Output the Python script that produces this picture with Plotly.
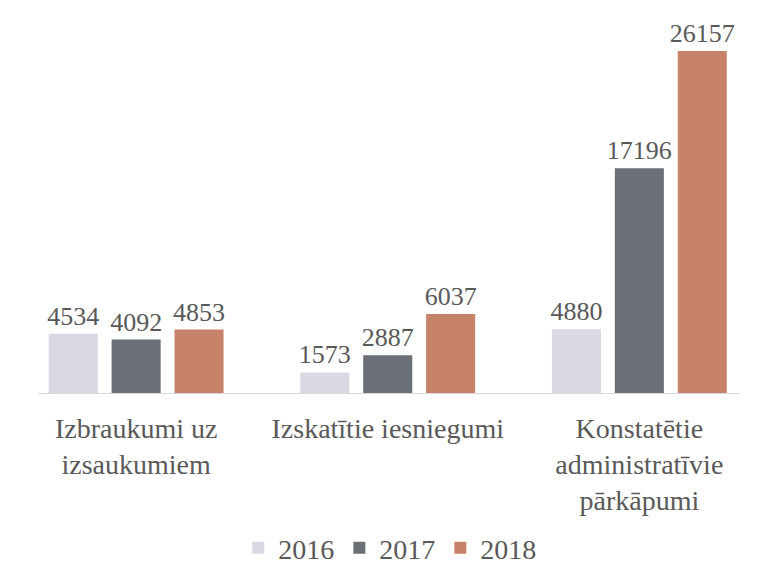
import plotly.graph_objects as go

categories = ["Izbraukumi uz<br>izsaukumiem", "Izskatītie iesniegumi",
              "Konstatētie<br>administratīvie<br>pārkāpumi"]
years = ["2016", "2017", "2018"]
values_2016 = [4534, 1573, 4880]
values_2017 = [4092, 2887, 17196]
values_2018 = [4853, 6037, 26157]

colors = {"2016": "#D8D9E2", "2017": "#6B7076", "2018": "#C7826A"}
font_family = "Times New Roman, Liberation Serif, DejaVu Serif, serif"
text_color = "#595959"

fig = go.Figure()
for year, vals in zip(years, [values_2016, values_2017, values_2018]):
    fig.add_trace(go.Bar(
        x=categories,
        y=vals,
        name=year,
        marker=dict(color=colors[year], line=dict(width=0)),
        text=[str(v) for v in vals],
        textposition="outside",
        constraintext="none",
        textfont=dict(family=font_family, size=26, color=text_color),
        cliponaxis=False,
    ))

fig.update_layout(
    width=757,
    height=564,
    margin=dict(l=0, r=0, t=10, b=171, autoexpand=False),
    paper_bgcolor="white",
    plot_bgcolor="white",
    barmode="group",
    bargap=0.25,
    bargroupgap=0.22,
    font=dict(family=font_family, size=26, color=text_color),
    showlegend=True,
    legend=dict(
        orientation="h",
        x=0.515, xanchor="center",
        y=-0.405, yanchor="middle",
        font=dict(family=font_family, size=28, color=text_color),
        itemwidth=30,
        traceorder="normal",
    ),
    xaxis=dict(
        domain=[38 / 757, 740 / 757],
        range=[-0.39, 2.40],
        automargin=False,
        showline=True,
        linecolor="#D9D9D9",
        linewidth=1,
        ticks="",
        ticklabelstandoff=10,
        tickfont=dict(family=font_family, size=28, color=text_color),
        showgrid=False,
    ),
    yaxis=dict(
        range=[0, 29300],
        automargin=False,
        visible=False,
        showgrid=False,
        zeroline=False,
    ),
)

fig.write_html("out.html", config={"displayModeBar": False},
               post_script="document.body.style.margin = '0';")
